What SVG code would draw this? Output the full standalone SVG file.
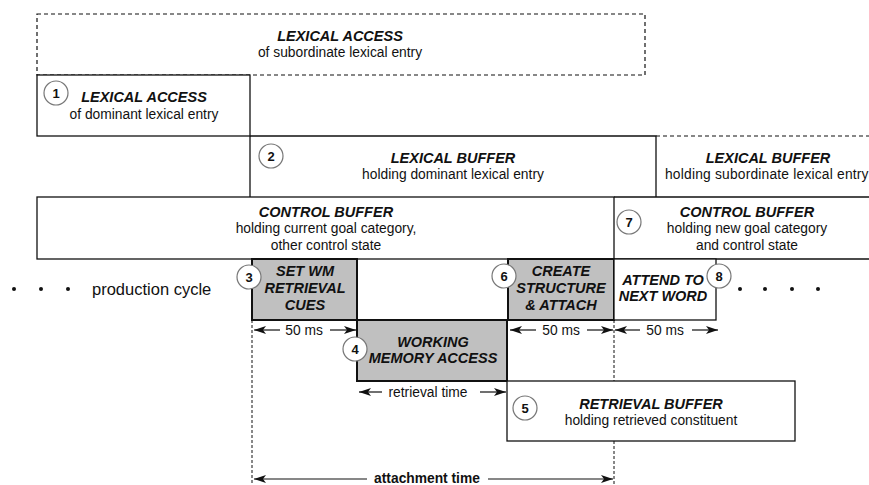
<svg xmlns="http://www.w3.org/2000/svg" width="869" height="485" viewBox="0 0 869 485">
<defs>
<style>
.t{font-family:"Liberation Sans",Arial,sans-serif;font-size:14.5px;font-weight:bold;font-style:italic;fill:#111;text-anchor:middle}
.s{font-family:"Liberation Sans",Arial,sans-serif;font-size:13.8px;fill:#111;text-anchor:middle}
.m{font-family:"Liberation Sans",Arial,sans-serif;font-size:13.8px;fill:#111;text-anchor:middle}
.n{font-family:"Liberation Sans",Arial,sans-serif;font-size:13px;font-weight:bold;fill:#111;text-anchor:middle}
.ln{stroke:#111;stroke-width:1.3;fill:none}
.dl{stroke:#111;stroke-width:1.2;fill:none;stroke-dasharray:4,3}
.vd{stroke:#111;stroke-width:1;fill:none;stroke-dasharray:3,2}
.g{fill:#c0c0c0;stroke:#111;stroke-width:2}
.w{fill:#fff;stroke:#111;stroke-width:1.3}
.c{fill:#fff;stroke:#777;stroke-width:1.2}
.ar{stroke:#111;stroke-width:1.2;fill:none;marker-end:url(#ah)}
.dot{fill:#111}
</style>
<marker id="ah" viewBox="0 0 12 8" refX="12" refY="4" markerWidth="12" markerHeight="8" markerUnits="userSpaceOnUse" orient="auto-start-reverse">
<path d="M0,0 L12,4 L0,8 L3,4 Z" fill="#111"/>
</marker>
</defs>

<g id="lexical-access-subordinate">
<rect x="37" y="14" width="608" height="61" class="dl"/>
<text x="340" y="41" class="t">LEXICAL ACCESS</text>
<text x="340" y="57" class="s">of subordinate lexical entry</text>
</g>

<g id="lexical-access-dominant">
<rect x="37" y="75" width="213" height="61" class="w"/>
<circle cx="56" cy="93" r="12" class="c"/>
<text x="56" y="98" class="n">1</text>
<text x="144" y="102" class="t">LEXICAL ACCESS</text>
<text x="144" y="119" class="s">of dominant lexical entry</text>
</g>

<g id="lexical-buffer-dominant">
<path d="M250,136 H656 V197 M250,136 V197" class="ln"/>
<circle cx="271" cy="156" r="12" class="c"/>
<text x="271" y="161" class="n">2</text>
<text x="453" y="163" class="t">LEXICAL BUFFER</text>
<text x="453" y="179" class="s">holding dominant lexical entry</text>
</g>

<g id="lexical-buffer-subordinate">
<path d="M656,136 H869" class="dl"/>
<text x="768" y="163" class="t">LEXICAL BUFFER</text>
<text x="665" y="179" class="s" style="text-anchor:start;letter-spacing:0.2px">holding subordinate  lexical entry</text>
</g>

<g id="control-buffer-current">
<rect x="37" y="197" width="577" height="62" class="w"/>
<text x="326" y="217" class="t">CONTROL BUFFER</text>
<text x="326" y="233" class="s">holding current goal category,</text>
<text x="326" y="250" class="s">other control state</text>
</g>

<g id="control-buffer-new">
<path d="M614,197 H869 M614,259 H869" class="ln"/>
<circle cx="629" cy="222" r="12" class="c"/>
<text x="629" y="227" class="n">7</text>
<text x="747" y="217" class="t">CONTROL BUFFER</text>
<text x="747" y="233" class="s">holding new goal category</text>
<text x="747" y="250" class="s">and control state</text>
</g>

<g id="production-cycle-label">
<circle cx="14" cy="289" r="2" class="dot"/>
<circle cx="41" cy="289" r="2" class="dot"/>
<circle cx="68" cy="289" r="2" class="dot"/>
<text x="92" y="295" style="font-family:'Liberation Sans',Arial,sans-serif;font-size:16.5px;fill:#111">production cycle</text>
</g>

<g id="set-wm-retrieval-cues">
<rect x="252" y="259" width="105" height="61" class="g"/>
<circle cx="249" cy="277" r="12" class="c"/>
<text x="249" y="282" class="n">3</text>
<text x="305" y="276" class="t">SET WM</text>
<text x="305" y="293" class="t">RETRIEVAL</text>
<text x="305" y="310" class="t">CUES</text>
</g>

<g id="working-memory-access">
<rect x="357" y="320" width="150" height="61" class="g"/>
<circle cx="355" cy="349" r="12" class="c"/>
<text x="355" y="354" class="n">4</text>
<text x="433" y="347" class="t">WORKING</text>
<text x="433" y="363" class="t">MEMORY ACCESS</text>
</g>

<g id="retrieval-buffer">
<rect x="507" y="381" width="288" height="60" class="w"/>
<circle cx="525" cy="408" r="12" class="c"/>
<text x="525" y="413" class="n">5</text>
<text x="651" y="409" class="t">RETRIEVAL BUFFER</text>
<text x="651" y="425" class="s">holding retrieved constituent</text>
</g>

<g id="create-structure-attach">
<rect x="508" y="259" width="106" height="61" class="g"/>
<circle cx="504" cy="276" r="12" class="c"/>
<text x="504" y="281" class="n">6</text>
<text x="561" y="276" class="t">CREATE</text>
<text x="561" y="293" class="t">STRUCTURE</text>
<text x="561" y="310" class="t">&amp; ATTACH</text>
</g>

<g id="attend-next-word">
<rect x="614" y="259" width="102" height="61" class="w"/>
<circle cx="719" cy="276" r="12" class="c"/>
<text x="719" y="281" class="n">8</text>
<text x="663" y="285" class="t">ATTEND TO</text>
<text x="663" y="301" class="t">NEXT WORD</text>
<circle cx="740" cy="289" r="2" class="dot"/>
<circle cx="765" cy="289" r="2" class="dot"/>
<circle cx="792" cy="289" r="2" class="dot"/>
<circle cx="818" cy="289" r="2" class="dot"/>
</g>

<g id="connectors">
<path d="M252,320 V485" class="vd"/>
<path d="M614,320 V381 M614,441 V485" class="vd"/>
<path d="M280,330 H254" class="ar"/>
<path d="M330,330 H356" class="ar"/>
<text x="304" y="335" class="m">50 ms</text>
<path d="M536,330 H510" class="ar"/>
<path d="M587,330 H613" class="ar"/>
<text x="561" y="335" class="m">50 ms</text>
<path d="M640,330 H615" class="ar"/>
<path d="M692,330 H718" class="ar"/>
<text x="665" y="335" class="m">50 ms</text>
<path d="M382,392 H359" class="ar"/>
<path d="M480,392 H506" class="ar"/>
<text x="428" y="397" class="m">retrieval time</text>
<path d="M367,479 H254" class="ar"/>
<path d="M488,479 H613" class="ar"/>
<text x="427" y="483" class="m" style="font-weight:bold">attachment time</text>
</g>
</svg>
